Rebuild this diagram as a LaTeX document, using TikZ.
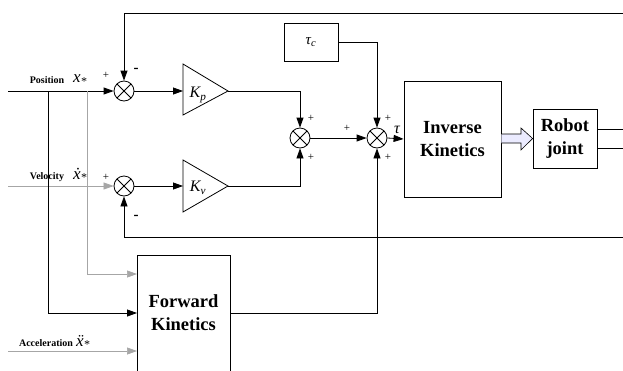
\documentclass[tikz,border=0pt]{standalone}
\usepackage{fontspec}
\setmainfont{Liberation Serif}
\usetikzlibrary{arrows.meta}
\begin{document}
\begin{tikzpicture}[x=1pt,y=-1pt,line width=0.8pt,
  sumnode/.style={circle,draw,minimum size=20pt,inner sep=0pt,
    path picture={\draw (path picture bounding box.north west) -- (path picture bounding box.south east)
      (path picture bounding box.north east) -- (path picture bounding box.south west);}},
  arr/.style={-{Triangle[length=10pt,width=7pt]}},
  blk/.style={draw,rectangle,inner sep=0pt,align=center,font=\bfseries\fontsize{18.5}{23}\selectfont},
  lbl/.style={font=\bfseries\fontsize{10}{12}\selectfont,inner sep=0pt},
  var/.style={font=\itshape\fontsize{17}{17}\selectfont,inner sep=0pt},
  gvar/.style={font=\itshape\fontsize{16}{16}\selectfont,inner sep=0pt},
  sgn/.style={font=\fontsize{11}{11}\selectfont,inner sep=0pt},
  msgn/.style={font=\bfseries\fontsize{15}{15}\selectfont,inner sep=0pt},
  thin/.style={draw=gray!70,line width=0.7pt}]
\useasboundingbox (0,0) rectangle (623,370);
\clip (0,0) rectangle (623,370);

% summing junctions
\node[sumnode] (s1) at (124,91) {};
\node[sumnode] (s2) at (124,186) {};
\node[sumnode] (s3) at (300,138) {};
\node[sumnode] (s4) at (377,138) {};

% gain triangles
\draw (183,64) -- (228,91) -- (183,115) -- cycle;
\coordinate (kpin) at (183,91); \coordinate (kpout) at (228,91);
\node[gvar] (kp) at (198,95) {K\textsubscript{p}};
\draw (183,160) -- (228,186) -- (183,212) -- cycle;
\coordinate (kvin) at (183,186); \coordinate (kvout) at (228,186);
\node[gvar] (kv) at (198,188) {K\textsubscript{v}};

% blocks
\node[draw,minimum width=54pt,minimum height=38pt,inner sep=0pt] (tc) at (311,42) {\fontsize{15}{15}\selectfont\itshape τ\textsubscript{c}};
\node[blk,minimum width=97pt,minimum height=116pt] (inv) at (452.5,139) {Inverse\\Kinetics};
\node[blk,minimum width=64pt,minimum height=59pt] (rob) at (565,138.5) {Robot\\joint};
\node[blk,minimum width=93pt,minimum height=116pt] (fk) at (183.5,313) {Forward\\Kinetics};

% inputs labels
\node[lbl] (lpos) at (47,80) {Position};
\node[var] (xpos) at (80,80) {x\textsubscript{*}};
\node[lbl] (lvel) at (47,177) {Velocity};
\node[var] (xvel) at (80,175) {\.{x}\textsubscript{*}};
\node[lbl] (lacc) at (46,343) {Acceleration};
\node[var] (xacc) at (83,342) {\"{x}\textsubscript{*}};

% coordinates
\coordinate (pin) at (8,91);
\coordinate (vin) at (8,186);
\coordinate (ain) at (8,351);
\coordinate (topR) at (623,13);
\coordinate (botR) at (623,237);
\coordinate (b48) at (48,91);
\coordinate (b87) at (87,91);
\coordinate (fkin1) at (137,274);
\coordinate (fkin2) at (137,313);
\coordinate (fkin3) at (137,351);
\coordinate (r1) at (623,129);
\coordinate (r2) at (623,148);

% connectors
\draw[arr] (pin) -- (s1.west);
\draw[arr] (topR) -| (s1.north);
\draw[arr] (s1.east) -- (kpin);
\draw[arr] (kpout) -| (s3.north);
\draw[arr,thin] (vin) -- (s2.west);
\draw[arr] (s2.east) -- (kvin);
\draw[arr] (kvout) -| (s3.south);
\draw[arr] (botR) -| (s2.south);
\draw[arr] (s3.east) -- (s4.west);
\draw[arr] (tc.east) -| (s4.north);
\draw[arr] (fk.east) -| (s4.south);
\draw[arr] (s4.east) -- (inv.west);
\draw[arr] (b48) |- (fkin2);
\draw[arr,thin] (b87) |- (fkin1);
\draw[arr,thin] (ain) -- (fkin3);
\draw (rob.east |- r1) -- (r1);
\draw (rob.east |- r2) -- (r2);

% hollow arrow
\draw[fill=blue!8,line width=0.6pt] (inv.east |- 0,134) -- (521,134) -- (521,128) -- (rob.west |- 0,138.5) -- (521,150) -- (521,143) -- (inv.east |- 0,143);

% signs
\node[sgn] at (106,75) {+};
\node[msgn] at (136,70) {-};
\node[sgn] at (106,177) {+};
\node[msgn] at (136,217) {-};
\node[sgn] at (311,118) {+};
\node[sgn] at (311,157) {+};
\node[sgn] at (347,128) {+};
\node[sgn] at (388,118) {+};
\node[sgn] at (388,157) {+};
\node[font=\itshape\fontsize{16}{16}\selectfont,inner sep=0pt] (tau) at (397,130) {τ};
\end{tikzpicture}
\end{document}
